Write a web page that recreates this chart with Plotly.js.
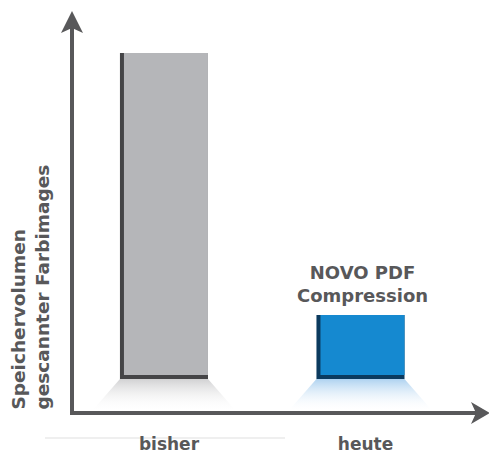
<!DOCTYPE html>
<html>
<head>
<meta charset="utf-8">
<script src="https://cdn.plot.ly/plotly-3.0.1.min.js"></script>
<style>html,body{margin:0;padding:0;background:#fff;}#chart{width:489px;height:455px;}</style>
</head>
<body>
<div id="chart"></div>
<script>
// ---- data ----
const categories = ["bisher", "heute"];
const values = [100, 19.6];
const barLabel = "NOVO PDF<br>Compression";
const yTitleLines = ["Speichervolumen", "gescannter Farbimages"];

// ---- styles ----
const faceColors = ["#b5b6b9", "#1589d0"];
const edgeColors = ["#454547", "#0b3a5e"];
const shadowColors = ["rgba(190,190,192,0.7)", "rgba(120,180,230,0.6)"];
const axisColor = "#58585a";
const textColor = "#58585a";
const fontFam = "DejaVu Sans, sans-serif";

// geometry of plot area (pixels)
const L = 72, T = 12, W = 417, H = 401;
const yRange = [-10.43, 112.58];
const xRange = [-0.468, 1.654];
const barW = 0.448;
const unitY = H / (yRange[1] - yRange[0]);   // px per y unit
const unitX = W / (xRange[1] - xRange[0]);   // px per x unit
const edgeBottom = 4 / unitY;
const edgeLeft = 4 / unitX;
const px2x = p => (p - L) / W;
const py2y = p => (T + H - p) / H;

const xs = categories.map((c, i) => i);

const traces = [];
// shadows below bars (trapezoids)
xs.forEach((x, i) => {
  const topHalf = barW / 2, botHalf = 0.37;
  const yb = yRange[0] + 1.2 / unitY;
  traces.push({
    type: "scatter", mode: "lines", hoverinfo: "skip", showlegend: false,
    x: [x - topHalf, x + topHalf, x + botHalf, x - botHalf, x - topHalf],
    y: [0, 0, yb, yb, 0],
    line: {width: 0},
    fill: "toself",
    fillgradient: {type: "vertical", colorscale: [[0, "rgba(255,255,255,0)"], [1, shadowColors[i]]]}
  });
});
// dark edge bars
traces.push({
  type: "bar", x: xs, y: values, width: barW,
  marker: {color: edgeColors, line: {width: 0}},
  hoverinfo: "skip", showlegend: false
});
// face bars
traces.push({
  type: "bar", x: xs, y: values.map(v => v - edgeBottom), base: values.map(() => edgeBottom),
  width: barW - edgeLeft, offset: -barW / 2 + edgeLeft,
  marker: {color: faceColors, line: {width: 0}},
  hoverinfo: "skip", showlegend: false
});

const shapes = [
  // faint floor line
  {type: "line", xref: "paper", yref: "paper", x0: px2x(45), x1: px2x(285), y0: py2y(438), y1: py2y(438),
   line: {color: "#efefef", width: 2}, layer: "below"},
  // y axis line
  {type: "line", xref: "paper", yref: "paper", x0: 0, x1: 0, y0: py2y(415), y1: py2y(25),
   line: {color: axisColor, width: 4}},
  // x axis line
  {type: "line", xref: "paper", yref: "paper", x0: px2x(70), x1: px2x(478), y0: py2y(413), y1: py2y(413),
   line: {color: axisColor, width: 4}},
  // y arrowhead
  {type: "path", xref: "paper", yref: "paper", fillcolor: axisColor, line: {width: 0},
   path: `M ${px2x(61)} ${py2y(33)} L ${px2x(72)} ${py2y(11)} L ${px2x(83)} ${py2y(33)} L ${px2x(72)} ${py2y(28)} Z`},
  // x arrowhead
  {type: "path", xref: "paper", yref: "paper", fillcolor: axisColor, line: {width: 0},
   path: `M ${px2x(471)} ${py2y(402)} L ${px2x(490)} ${py2y(413)} L ${px2x(471)} ${py2y(424)} L ${px2x(476)} ${py2y(413)} Z`}
];

const annotations = [
  {text: barLabel, xref: "x", yref: "y", x: xs[1], y: values[1], xanchor: "center", yanchor: "bottom",
   xshift: 2, yshift: 7, showarrow: false, align: "center",
   font: {family: fontFam, size: 18, color: textColor, weight: "bold"}},
  {text: yTitleLines.join("<br>"), xref: "paper", yref: "paper", x: px2x(30), y: py2y(412),
   xanchor: "center", yanchor: "bottom", textangle: -90, align: "left", showarrow: false,
   font: {family: fontFam, size: 18.5, color: textColor, weight: "bold"}}
];

const layout = {
  width: 489, height: 455,
  margin: {l: L, r: 489 - L - W, t: T, b: 455 - T - H, pad: 0},
  paper_bgcolor: "#fff", plot_bgcolor: "rgba(0,0,0,0)",
  barmode: "overlay", showlegend: false,
  xaxis: {range: xRange, tickvals: xs, ticktext: categories, showline: false, showgrid: false,
          zeroline: false, ticks: "", ticklabelstandoff: 19, ticklabelshift: 5, automargin: false,
          tickfont: {family: fontFam, size: 17, color: textColor, weight: "bold"}, fixedrange: true},
  yaxis: {range: yRange, showline: false, showgrid: false, zeroline: false, showticklabels: false,
          ticks: "", automargin: false, fixedrange: true},
  shapes: shapes,
  annotations: annotations
};

Plotly.newPlot("chart", traces, layout, {displayModeBar: false, staticPlot: true});
</script>
</body>
</html>
